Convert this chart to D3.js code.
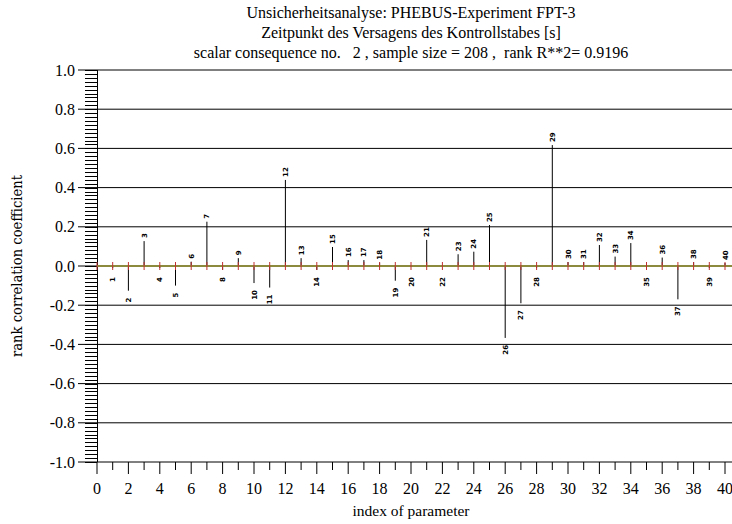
<!DOCTYPE html>
<html>
<head>
<meta charset="utf-8">
<script src="https://cdn.jsdelivr.net/npm/d3@7"></script>
<style>
  body { margin: 0; background: #fff; }
  svg { display: block; }
</style>
</head>
<body>
<div id="chart"></div>
<script>
const titleLines = [
    "Unsicherheitsanalyse: PHEBUS-Experiment FPT-3",
    "Zeitpunkt des Versagens des Kontrollstabes [s]",
    "scalar consequence no.   2 , sample size = 208 ,  rank R**2= 0.9196"
];
const paramIndex = d3.range(1, 41);
const rankCorr = [
    -0.010, -0.126, 0.127, -0.010, -0.100, 0.022, 0.226, -0.020, 0.040, -0.087,
    -0.110, 0.439, 0.040, -0.020, 0.097, 0.030, 0.030, 0.017, -0.075, -0.005,
    0.133, -0.005, 0.060, 0.073, 0.209, -0.367, -0.190, -0.010, 0.617, 0.020,
    0.020, 0.107, 0.048, 0.117, -0.010, 0.043, -0.170, 0.020, -0.010, 0.015
];
const yTicks = [-1.0, -0.8, -0.6, -0.4, -0.2, 0.0, 0.2, 0.4, 0.6, 0.8, 1.0];
const xTicks = d3.range(0, 41, 2);

const W = 732, H = 524;
const svg = d3.select("#chart").append("svg")
    .attr("width", W).attr("height", H);

const x = d3.scaleLinear().domain([0, 40]).range([97, 725]);
const y = d3.scaleLinear().domain([-1, 1]).range([462, 70]);
const serif = "'Liberation Serif', 'Times New Roman', serif";

// title
svg.append("g").selectAll("text")
    .data(titleLines)
    .enter().append("text")
    .attr("x", 411)
    .attr("y", (d, i) => 18 + i * 20)
    .attr("text-anchor", "middle")
    .style("font-family", serif)
    .style("font-size", "16px")
    .style("white-space", "pre")
    .attr("xml:space", "preserve")
    .text(d => d);

// grid lines + major y ticks
svg.append("g").selectAll("line")
    .data(yTicks)
    .enter().append("line")
    .attr("x1", 78).attr("x2", W)
    .attr("y1", d => y(d)).attr("y2", d => y(d))
    .attr("stroke", "#000").attr("stroke-width", 1);

// minor y ticks
svg.append("g").selectAll("line")
    .data(d3.range(-50, 51).map(i => i / 50))
    .enter().append("line")
    .attr("x1", 85).attr("x2", 97)
    .attr("y1", d => Math.round(y(d)) + 0.5).attr("y2", d => Math.round(y(d)) + 0.5)
    .attr("stroke", "#000").attr("stroke-width", 1);

// y axis line
svg.append("line")
    .attr("x1", 97.5).attr("x2", 97.5)
    .attr("y1", y(1)).attr("y2", y(-1))
    .attr("stroke", "#000");

// y tick labels
svg.append("g").selectAll("text")
    .data(yTicks)
    .enter().append("text")
    .attr("x", 75)
    .attr("y", d => y(d) + 5.5)
    .attr("text-anchor", "end")
    .style("font-family", serif)
    .style("font-size", "16px")
    .text(d => d.toFixed(1));

// x ticks
svg.append("g").selectAll("line")
    .data(d3.range(0, 41))
    .enter().append("line")
    .attr("x1", d => x(d)).attr("x2", d => x(d))
    .attr("y1", y(-1)).attr("y2", d => y(-1) + (d % 2 === 0 ? 12 : 8))
    .attr("stroke", "#000");

svg.append("g").selectAll("text")
    .data(xTicks)
    .enter().append("text")
    .attr("x", d => x(d))
    .attr("y", 494)
    .attr("text-anchor", "middle")
    .style("font-family", serif)
    .style("font-size", "16px")
    .text(d => d);

// axis titles
svg.append("text")
    .attr("x", 411).attr("y", 516)
    .attr("text-anchor", "middle")
    .style("font-family", serif)
    .style("font-size", "15.5px")
    .text("index of parameter");

svg.append("text")
    .attr("transform", `translate(22,${y(0)}) rotate(-90)`)
    .attr("text-anchor", "middle")
    .attr("textLength", 182)
    .attr("lengthAdjust", "spacingAndGlyphs")
    .style("font-family", "'DejaVu Serif', serif")
    .style("font-size", "14px")
    .text("rank correlation coefficient");

// bars
const data = paramIndex.map((p, i) => ({p: p, v: rankCorr[i]}));
svg.append("g").selectAll("line")
    .data(data)
    .enter().append("line")
    .attr("x1", d => x(d.p)).attr("x2", d => x(d.p))
    .attr("y1", y(0)).attr("y2", d => y(d.v))
    .attr("stroke", "#000").attr("stroke-width", 1);

// zero line
svg.append("line")
    .attr("x1", 97).attr("x2", W)
    .attr("y1", y(0)).attr("y2", y(0))
    .attr("stroke", "#8c8a3c").attr("stroke-width", 2);

svg.append("g").selectAll("line")
    .data(d3.range(0, 41))
    .enter().append("line")
    .attr("x1", d => x(d)).attr("x2", d => x(d))
    .attr("y1", y(0) - 4).attr("y2", y(0) + 4)
    .attr("stroke", "#c03030").attr("stroke-width", 1);

// bar labels
svg.append("g").selectAll("text")
    .data(data)
    .enter().append("text")
    .attr("transform", d => d.v >= 0
        ? `translate(${x(d.p) + 2.5},${y(d.v) - 3}) rotate(-90)`
        : `translate(${x(d.p) + 2.5},${Math.max(y(d.v), y(0) + 4) + 7}) rotate(-90)`)
    .attr("text-anchor", d => d.v >= 0 ? "start" : "end")
    .style("font-family", "'DejaVu Sans', sans-serif")
    .style("font-weight", "bold")
    .style("font-size", "7px")
    .text(d => d.p);
</script>
</body>
</html>
